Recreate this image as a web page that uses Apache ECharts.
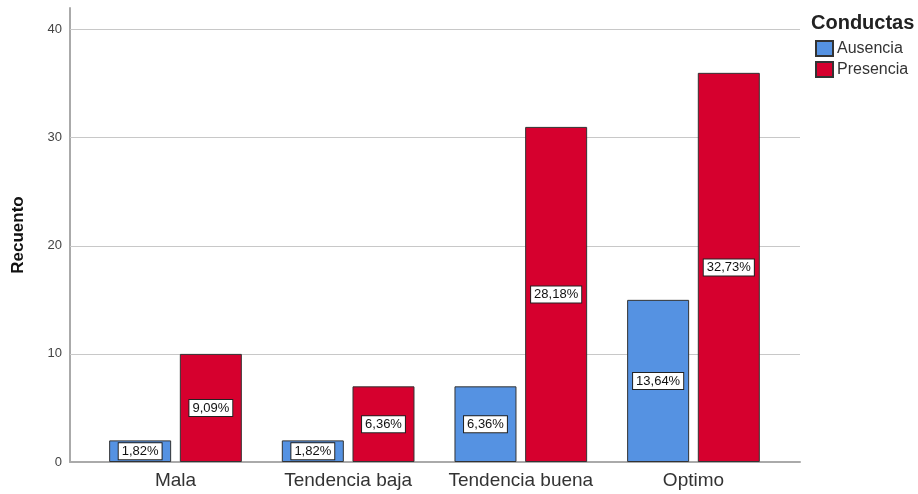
<!DOCTYPE html>
<html>
<head>
<meta charset="utf-8">
<script src="https://cdn.jsdelivr.net/npm/echarts@6/dist/echarts.min.js"></script>
<style>
  html, body { margin: 0; padding: 0; background: #fff; }
  #chart { width: 918px; height: 494px; }
</style>
</head>
<body>
<div id="chart"></div>
<script>
// datos del grafico
const categorias = ['Mala', 'Tendencia baja', 'Tendencia buena', 'Optimo'];
const ausencia = [2, 2, 7, 15];
const presencia = [10, 7, 31, 36];
const pctAusencia = ['1,82%', '1,82%', '6,36%', '13,64%'];
const pctPresencia = ['9,09%', '6,36%', '28,18%', '32,73%'];
const yTicks = [10, 20, 30, 40];

const FONT = '"Liberation Sans", Arial, sans-serif';

let myChart = echarts.init(document.getElementById('chart'));

function etiqueta(pcts) {
  return {
    show: true,
    position: 'inside',
    formatter: p => pcts[p.dataIndex],
    backgroundColor: '#fff',
    borderColor: '#222',
    borderWidth: 1,
    padding: [2, 3, 1, 3],
    fontFamily: FONT,
    fontSize: 13,
    color: '#111'
  };
}

myChart.setOption({
  animation: false,
  title: {
    text: 'Conductas',
    left: 806,
    top: 8,
    textStyle: { fontFamily: FONT, fontSize: 20, fontWeight: 'bold', color: '#222' }
  },
  legend: {
    orient: 'vertical',
    left: 810,
    top: 35,
    itemWidth: 17,
    itemHeight: 15,
    itemGap: 4,
    icon: 'rect',
    textStyle: { fontFamily: FONT, fontSize: 16, color: '#333', padding: [0, 0, 0, -1] },
    data: ['Ausencia', 'Presencia']
  },
  grid: { left: 70, right: 118, top: 8, bottom: 32 },
  xAxis: {
    type: 'value',
    min: -0.611,
    max: 3.617,
    splitLine: { show: false },
    axisTick: { show: false },
    axisLine: { show: true, onZero: false, lineStyle: { color: '#aaa', width: 2 } },
    axisLabel: {
      customValues: [0, 1, 2, 3],
      formatter: v => categorias[Math.round(v)],
      fontFamily: FONT,
      fontSize: 19,
      color: '#333',
      margin: 9
    }
  },
  yAxis: {
    type: 'value',
    min: 0,
    max: 42,
    interval: 10,
    name: 'Recuento',
    nameLocation: 'middle',
    nameGap: 43,
    nameTextStyle: { fontFamily: FONT, fontSize: 17, fontWeight: 'bold', color: '#111' },
    splitLine: { show: false },
    axisTick: { show: false },
    axisLine: { show: true, onZero: false, lineStyle: { color: '#aaa', width: 2 } },
    axisLabel: {
      formatter: v => (v % 10 === 0 ? String(v) : ''),
      fontFamily: FONT,
      fontSize: 13,
      color: '#444',
      margin: 8
    }
  },
  series: [
    {
      name: 'Ausencia',
      type: 'bar',
      barWidth: 62,
      barGap: '14%',
      data: ausencia.map((v, i) => [i, v]),
      itemStyle: { color: '#5592e2', borderColor: '#333', borderWidth: 1 },
      label: etiqueta(pctAusencia),
      markLine: {
        silent: true,
        z: 1,
        symbol: ['none', 'none'],
        label: { show: false },
        lineStyle: { color: '#c8c8c8', type: 'solid', width: 1 },
        data: yTicks.map(t => ({ yAxis: t }))
      }
    },
    {
      name: 'Presencia',
      type: 'bar',
      barWidth: 62,
      barGap: '14%',
      data: presencia.map((v, i) => [i, v]),
      itemStyle: { color: '#d6002e', borderColor: '#333', borderWidth: 1 },
      label: etiqueta(pctPresencia)
    }
  ]
});

window.onresize = function () {
  myChart.resize();
};
</script>
</body>
</html>
